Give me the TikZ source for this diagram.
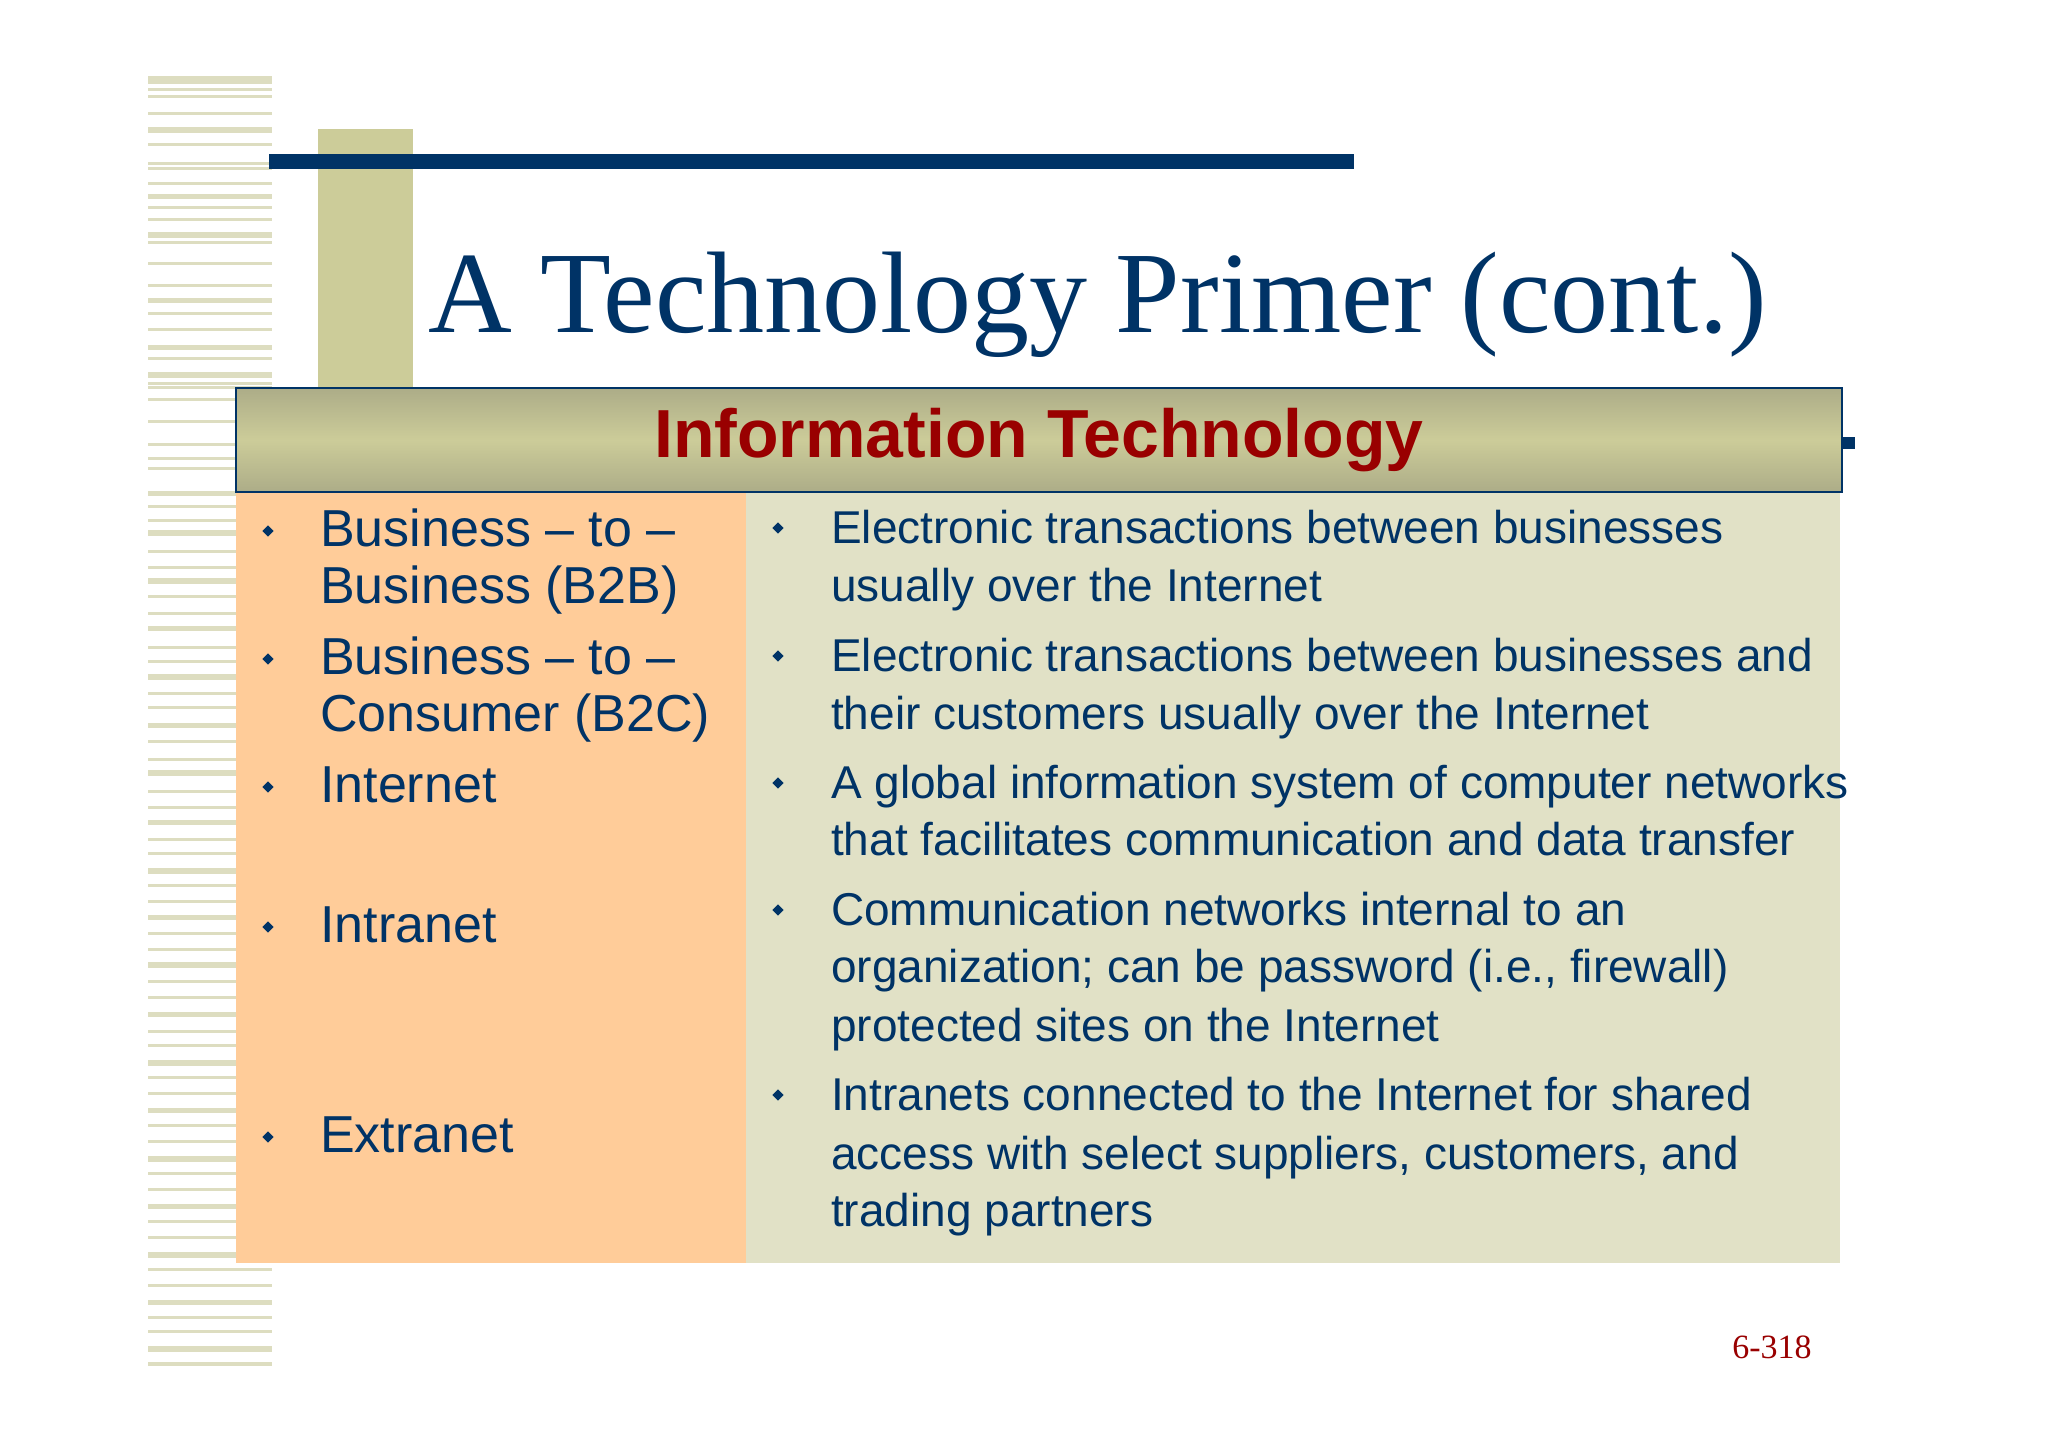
\documentclass[tikz,border=0pt]{standalone}
\usepackage{fontspec}
\setmainfont{Liberation Serif}
\newfontfamily\arial{Liberation Sans}
\definecolor{navy}{HTML}{003366}
\definecolor{olive}{HTML}{CCCC99}
\definecolor{stripe}{HTML}{DDDDC0}
\definecolor{peach}{HTML}{FFCC99}
\definecolor{pale}{HTML}{E1E1C6}
\definecolor{dred}{HTML}{990000}
\begin{document}
\begin{tikzpicture}[x=1pt,y=-1pt,
  lt/.style={anchor=base west,inner sep=0pt,text=navy,font=\arial\fontsize{52}{60}\selectfont},
  rt/.style={anchor=base west,inner sep=0pt,text=navy,font=\arial\fontsize{46}{56}\selectfont},
  bul/.style={fill=navy,rotate=45,minimum size=8pt,inner sep=0pt}]
\useasboundingbox[fill=white] (0,0) rectangle (2048,1447);
% stripes
\foreach \y/\h in {76/8,88/3,95/3,112/3,127/6,143/3,162/3,167/3,182/3,194/5,206/3,218/3,232/6,241/3,262/3,284/3,298/5,312/3,328/3,345/5,357/3,372/6,382/3,386/3,398/3,420/3,443/3,457/3,467/3,491/5,505/3,519/3,530/6,550/3,566/3,578/6,595/3,612/3,626/5,646/3,660/3,674/6,692/3,706/3,723/5,740/3,758/3,770/6,790/3,806/3,820/5,838/3,852/3,868/6,884/3,900/3,915/5,932/3,948/3,962/6,980/3,996/3,1012/5,1030/3,1044/3,1060/6,1076/3,1092/3,1108/5,1124/3,1140/3,1156/6,1172/3,1188/3,1204/5,1220/3,1236/3,1252/6,1268/3,1284/3,1300/5,1316/3,1330/3,1346/6,1362/4}
  \fill[stripe] (148,\y) rectangle (272,\y+\h);
\fill[olive] (318,129) rectangle (413,388);
\fill[navy] (269,154) rectangle (1354,169);
\node[anchor=base west,inner sep=0pt,text=navy,font=\fontsize{116}{130}\selectfont] (title) at (428,333) {A Technology Primer (cont.)};
% panels
\fill[peach] (236,492) rectangle (746,1263);
\fill[pale] (746,492) rectangle (1840,1263);
\fill[navy] (1836,437) rectangle (1855,449);
\shade[top color=olive!80!black!90,bottom color=olive!80!black!90,middle color=olive] (236,388) rectangle (1842,492);
\draw[navy,line width=2pt] (236,388) rectangle (1842,492);
\node[anchor=base,inner sep=0pt,text=dred,font=\arial\bfseries\fontsize{68}{70}\selectfont] (hdr) at (1039,457) {Information Technology};
% left
\foreach \n/\y in {1/546,2/674,3/802,4/942,5/1152} \node[bul] (lb\n) at (268,\y-15) {};
\node[lt] (l1a) at (320,546) {Business – to –};
\node[lt] (l1b) at (320,603) {Business (B2B)};
\node[lt] (l2a) at (320,674) {Business – to –};
\node[lt] (l2b) at (320,731) {Consumer (B2C)};
\node[lt] (l3) at (320,802) {Internet};
\node[lt] (l4) at (320,942) {Intranet};
\node[lt] (l5) at (320,1152) {Extranet};
% right
\foreach \n/\y in {1/543,2/671,3/798,4/925,5/1110} \node[bul] (rb\n) at (778,\y-15) {};
\node[rt] (r1a) at (831,543) {Electronic transactions between businesses};
\node[rt] (r1b) at (831,601) {usually over the Internet};
\node[rt] (r2a) at (831,671) {Electronic transactions between businesses and};
\node[rt] (r2b) at (831,729) {their customers usually over the Internet};
\node[rt] (r3a) at (831,798) {A global information system of computer networks};
\node[rt] (r3b) at (831,855) {that facilitates communication and data transfer};
\node[rt] (r4a) at (831,925) {Communication networks internal to an};
\node[rt] (r4b) at (831,982) {organization; can be password (i.e., firewall)};
\node[rt] (r4c) at (831,1041) {protected sites on the Internet};
\node[rt] (r5a) at (831,1110) {Intranets connected to the Internet for shared};
\node[rt] (r5b) at (831,1169) {access with select suppliers, customers, and};
\node[rt] (r5c) at (831,1226) {trading partners};
\node[anchor=base,inner sep=0pt,text=dred,font=\fontsize{34}{40}\selectfont] (pg) at (1772,1358) {6-318};
\end{tikzpicture}
\end{document}
